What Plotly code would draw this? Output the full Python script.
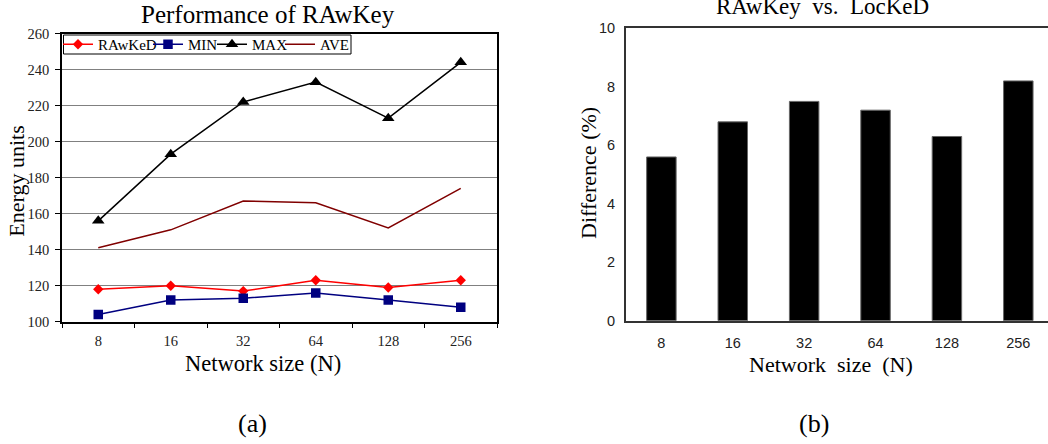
import plotly.graph_objects as go

# ---------------- data ----------------
categories = ["8", "16", "32", "64", "128", "256"]
rawked = [118, 120, 117, 123, 119, 123]
min_vals = [104, 112, 113, 116, 112, 108]
max_vals = [156, 193, 222, 233, 213, 244]
ave_vals = [141, 151, 167, 166, 152, 174]
diff_vals = [5.6, 6.8, 7.5, 7.2, 6.3, 8.2]

W, H = 1048, 444
SERIF = "Liberation Serif"
SANS = "Liberation Sans"


def px(x):
    return x / W


def py(y):
    return 1 - y / H


fig = go.Figure()

fig.add_trace(go.Scatter(x=categories, y=rawked, name="RAwKeD", mode="lines+markers",
                         line=dict(color="#FF0000", width=1.5),
                         marker=dict(symbol="diamond", size=8, color="#FF0000"),
                         xaxis="x", yaxis="y", legend="legend"))
fig.add_trace(go.Scatter(x=categories, y=min_vals, name="MIN", mode="lines+markers",
                         line=dict(color="#000080", width=1.5),
                         marker=dict(symbol="square", size=9.5, color="#000080"),
                         xaxis="x", yaxis="y", legend="legend2"))
fig.add_trace(go.Scatter(x=categories, y=max_vals, name="MAX", mode="lines+markers",
                         line=dict(color="#000000", width=1.5),
                         marker=dict(symbol="triangle-up", size=11, color="#000000"),
                         xaxis="x", yaxis="y", legend="legend3"))
fig.add_trace(go.Scatter(x=categories, y=ave_vals, name="AVE", mode="lines",
                         line=dict(color="#800000", width=1.5),
                         xaxis="x", yaxis="y", legend="legend4"))

fig.add_trace(go.Bar(x=categories, y=diff_vals, showlegend=False,
                     marker=dict(color="#000000", line=dict(color="#666666", width=1)),
                     xaxis="x2", yaxis="y2"))


def leg(xpix):
    return dict(orientation="h", x=px(xpix), y=py(44.5), xanchor="left", yanchor="middle",
                bgcolor="rgba(0,0,0,0)", borderwidth=0,
                font=dict(family=SERIF, size=15, color="#000000"),
                itemwidth=30)


fig.update_layout(
    width=W, height=H,
    margin=dict(l=0, r=0, t=0, b=0, autoexpand=False),
    paper_bgcolor="white", plot_bgcolor="white",
    bargap=0.587,
    showlegend=True,
    legend=leg(58),
    legend2=leg(148),
    legend3=leg(212),
    legend4=leg(280),
    xaxis=dict(domain=[px(62), px(497)], type="category", range=[-0.5, 5.5],
               tickson="boundaries", ticks="outside", ticklen=5, tickcolor="#000000",
               tickwidth=1, showline=True, mirror=True, linecolor="#000000", linewidth=1.5,
               showgrid=False, zeroline=False, automargin=False,
               tickfont=dict(family=SERIF, size=14.5, color="#222222"),
               ticklabelstandoff=5,
               anchor="y"),
    yaxis=dict(domain=[py(321.7), py(33.5)], range=[100, 260], dtick=20,
               ticks="outside", ticklen=5, tickcolor="#000000", tickwidth=1,
               showline=True, mirror=True, linecolor="#000000", linewidth=1.5,
               showgrid=True, gridcolor="#808080", gridwidth=1.2, zeroline=False,
               automargin=False,
               tickfont=dict(family=SERIF, size=14.5, color="#222222"),
               ticklabelstandoff=3,
               anchor="x"),
    xaxis2=dict(domain=[px(625.7), 1.0], type="category", range=[-0.5, 5.416],
                ticks="", showline=True, mirror=True, linecolor="#333333", linewidth=1.5,
                showgrid=False, zeroline=False, automargin=False,
                tickfont=dict(family=SANS, size=14.5, color="#222222"),
                ticklabelstandoff=8,
                anchor="y2"),
    yaxis2=dict(domain=[py(320.7), py(28.3)], range=[0, 10], dtick=2,
                ticks="", showline=True, mirror=False, linecolor="#333333", linewidth=1.5,
                showgrid=False, zeroline=False, automargin=False,
                tickfont=dict(family=SANS, size=14.5, color="#222222"),
                ticklabelstandoff=6,
                anchor="x2"),
)

# legend frame
fig.add_shape(type="rect", xref="paper", yref="paper",
              x0=px(63.5), x1=px(351), y0=py(54), y1=py(35),
              line=dict(color="#000000", width=1), fillcolor="white", layer="above")

ann = [
    dict(text="Performance of RAwKey", x=px(268), y=py(14), size=25),
    dict(text="RAwKey\u00a0 vs.\u00a0 LocKeD", x=px(822), y=py(7), size=23),
    dict(text="Network size (N)", x=px(263), y=py(363), size=22.5),
    dict(text="Network\u00a0 size\u00a0 (N)", x=px(830.5), y=py(364), size=22),
    dict(text="(a)", x=px(252), y=py(423), size=26),
    dict(text="(b)", x=px(814), y=py(423), size=26),
]
for a in ann:
    fig.add_annotation(text=a["text"], x=a["x"], y=a["y"], xref="paper", yref="paper",
                       xanchor="center", yanchor="middle", showarrow=False,
                       font=dict(family=SERIF, size=a["size"], color="#000000"))

fig.add_annotation(text="Energy units", x=px(16.7), y=py(181), xref="paper", yref="paper",
                   xanchor="center", yanchor="middle", showarrow=False, textangle=-90,
                   font=dict(family=SERIF, size=22, color="#000000"))
fig.add_annotation(text="Difference (%)", x=px(588), y=py(173), xref="paper", yref="paper",
                   xanchor="center", yanchor="middle", showarrow=False, textangle=-90,
                   font=dict(family=SERIF, size=22, color="#000000"))

fig.write_html("out.html")
